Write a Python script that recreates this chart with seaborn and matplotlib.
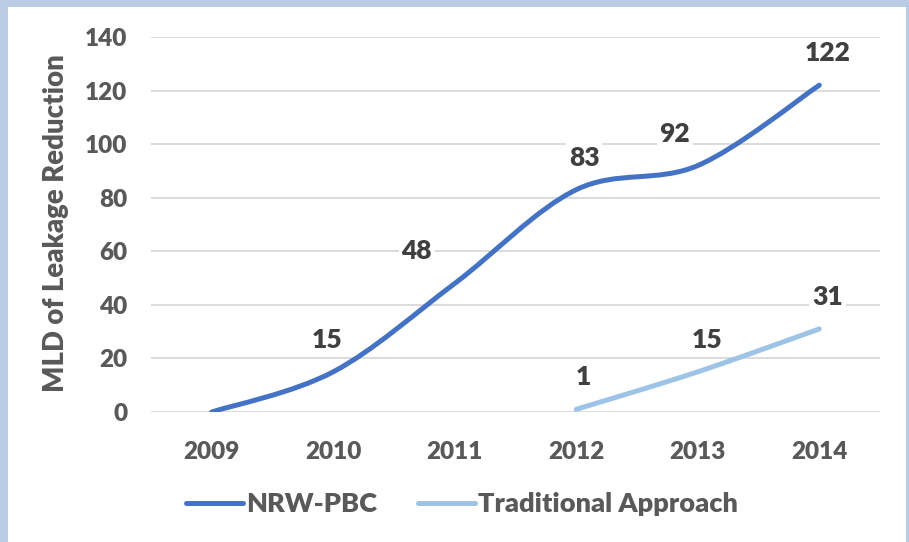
import numpy as np
import pandas as pd
import matplotlib
matplotlib.use("Agg")
import matplotlib.pyplot as plt
from matplotlib.path import Path
from matplotlib.patches import PathPatch, Rectangle
from matplotlib.lines import Line2D
import seaborn as sns

# ---- data ----
years = ["2009", "2010", "2011", "2012", "2013", "2014"]
nrw_pbc = [0, 15, 48, 83, 92, 122]
traditional = [np.nan, np.nan, np.nan, 1, 15, 31]
series_names = ["NRW-PBC", "Traditional Approach"]
nrw_label_shown = [False, True, True, True, True, True]
y_ticks = [0, 20, 40, 60, 80, 100, 120, 140]

# label offsets (pixels) – style/positions, kept apart from the data
nrw_label_dx = [0, -6, -38, 8, -23, 8]
trad_label_dx = [0, 0, 0, 7, 9, 8]
label_dy = 32

colors = {"NRW-PBC": "#4472C4", "Traditional Approach": "#9DC3E6"}
TICK_C = "#595959"
LABEL_C = "#404040"
GRID_C = "#D9D9D9"
WEIGHT = "heavy"

sns.set_theme(style="white")
plt.rcParams["font.family"] = ["Lato", "DejaVu Sans"]
plt.rcParams["font.weight"] = WEIGHT

W, H = 909, 542
fig = plt.figure(figsize=(W / 100, H / 100), dpi=100)
fig.patch.set_facecolor("#B8CCE4")
fig.add_artist(Rectangle((8 / W, 0), (906 - 8) / W, (H - 7) / H,
                         transform=fig.transFigure, facecolor="white",
                         edgecolor="none", zorder=-10))

ax = fig.add_axes([151 / W, (H - 412) / H, (880 - 151) / W, (412 - 37) / H])
ax.set_facecolor("white")

pos = np.arange(len(years))
df = pd.DataFrame({
    "pos": np.concatenate([pos, pos]),
    "value": np.concatenate([nrw_pbc, traditional]),
    "series": [series_names[0]] * len(years) + [series_names[1]] * len(years),
}).dropna()

sns.lineplot(data=df, x="pos", y="value", hue="series", hue_order=series_names,
             palette=colors, legend=False, sort=False, ax=ax, linewidth=3.6)


def smooth_path(xy):
    pts = np.asarray(xy, dtype=float)
    n = len(pts)
    verts = [pts[0]]
    codes = [Path.MOVETO]
    for i in range(n - 1):
        p0 = pts[i - 1] if i > 0 else pts[i]
        p1 = pts[i]
        p2 = pts[i + 1]
        p3 = pts[i + 2] if i + 2 < n else pts[i + 1]
        c1 = p1 + (p2 - p0) / 6.0
        c2 = p2 - (p3 - p1) / 6.0
        verts += [c1, c2, p2]
        codes += [Path.CURVE4] * 3
    return Path(verts, codes)


# replace seaborn's straight segments by Excel-like smoothed curves
for line, name in zip(list(ax.lines), series_names):
    xy = line.get_xydata()
    line.set_visible(False)
    patch = PathPatch(smooth_path(xy), facecolor="none", edgecolor=colors[name],
                      linewidth=3.6, capstyle="round", joinstyle="round", zorder=3)
    ax.add_patch(patch)

# data labels
for i, v in enumerate(nrw_pbc):
    if nrw_label_shown[i]:
        ax.annotate(f"{v:g}", (pos[i], v), xytext=(nrw_label_dx[i], label_dy),
                    textcoords="offset pixels", ha="center", va="center",
                    fontsize=19, fontweight=WEIGHT, color=LABEL_C, zorder=4,
                    bbox=dict(facecolor="white", edgecolor="none", pad=2))
for i, v in enumerate(traditional):
    if not np.isnan(v):
        ax.annotate(f"{v:g}", (pos[i], v), xytext=(trad_label_dx[i], label_dy),
                    textcoords="offset pixels", ha="center", va="center",
                    fontsize=19, fontweight=WEIGHT, color=LABEL_C, zorder=4,
                    bbox=dict(facecolor="white", edgecolor="none", pad=2))

ax.set_xlim(-0.5, len(years) - 0.5)
ax.set_ylim(0, 140)
ax.set_xticks(pos)
ax.set_xticklabels(years)
ax.set_yticks(y_ticks)
ax.set_yticklabels([str(t) for t in y_ticks])
ax.tick_params(axis="x", length=0, pad=21, labelsize=17.5, labelcolor=TICK_C)
ax.tick_params(axis="y", length=0, pad=17, labelsize=17.5, labelcolor=TICK_C)
for lab in ax.get_xticklabels() + ax.get_yticklabels():
    lab.set_fontweight(WEIGHT)

ax.grid(axis="y", color=GRID_C, linewidth=1.3, zorder=0)
ax.grid(axis="x", visible=False)
ax.set_axisbelow(True)
sns.despine(ax=ax, left=True, bottom=True)

ax.set_xlabel("")
ax.set_ylabel("MLD of Leakage Reduction", fontsize=19.8, fontweight=WEIGHT,
              color=TICK_C)
ax.yaxis.set_label_coords((69 - 151) / (880 - 151), 0.505)

handles = [Line2D([], [], color=colors[n], linewidth=3.6, solid_capstyle="round")
           for n in series_names]
leg = fig.legend(handles, series_names, loc="center", bbox_to_anchor=(462 / W, 38 / H),
                 ncol=2, frameon=False, fontsize=19.5, handlelength=2.1,
                 handletextpad=0.12, columnspacing=1.5)
for t in leg.get_texts():
    t.set_color(TICK_C)
    t.set_fontweight(WEIGHT)

fig.savefig("out.png", dpi=100, facecolor=fig.get_facecolor())
